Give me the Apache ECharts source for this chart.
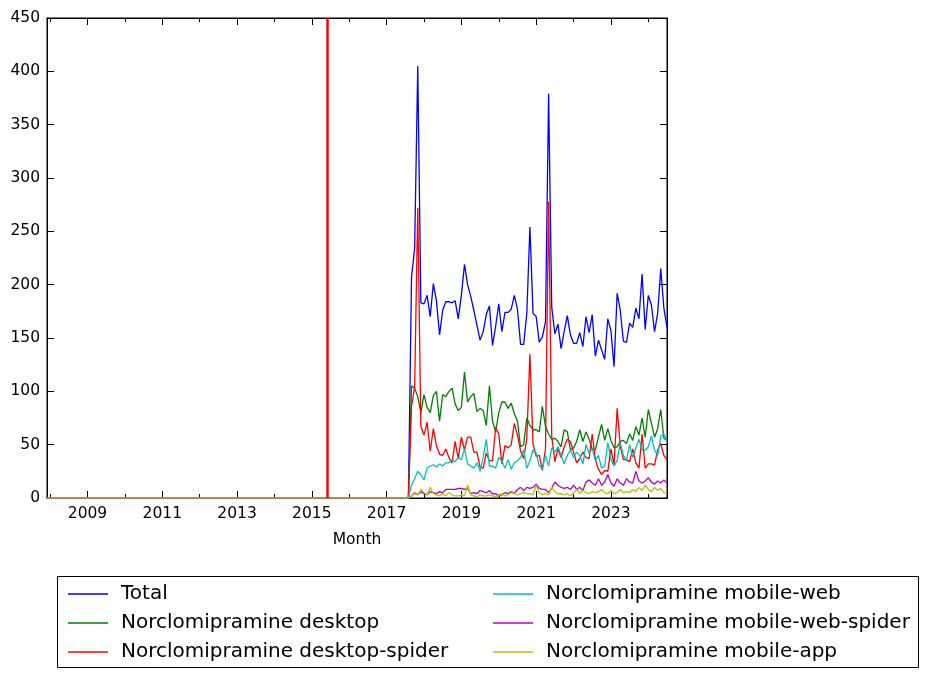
<!DOCTYPE html>
<html>
<head>
<meta charset="utf-8">
<script src="https://cdn.jsdelivr.net/npm/echarts@6/dist/echarts.min.js"></script>
<style>html,body{margin:0;padding:0;background:#fff}#c{width:929px;height:679px}</style>
</head>
<body>
<div id="c"></div>
<script>
// ---- data ----
const seriesNames = ['Total', 'Norclomipramine desktop', 'Norclomipramine desktop-spider',
  'Norclomipramine mobile-web', 'Norclomipramine mobile-web-spider', 'Norclomipramine mobile-app'];
const seriesColors = ['#0000ff', '#008000', '#ff0000', '#00bfbf', '#bf00bf', '#bfbf00'];

// flat zero stretch before the data begins
const leadMonths = ['2007-12', '2017-08'];
const leadValues = [0, 0];

// monthly values from 2017-09 to 2024-07
const firstMonth = '2017-09';
const total = [
  207, 234, 405, 183,
  182, 190, 170, 201, 185, 153, 176, 184, 184, 183, 185, 168,
  190, 219, 200, 189, 176, 162, 148, 156, 172, 180, 143, 161,
  182, 156, 174, 174, 177, 190, 177, 144, 144, 173, 254, 173,
  170, 146, 151, 165, 379, 179, 154, 163, 140, 156, 171, 153,
  145, 145, 155, 142, 170, 155, 172, 133, 148, 139, 130, 168,
  157, 123, 192, 176, 147, 146, 164, 160, 178, 168, 210, 158,
  190, 181, 156, 173, 215, 178, 160
];
const desktop = [
  105, 103, 95, 80,
  97, 85, 80, 96, 100, 72, 97, 95, 100, 103, 88, 82,
  85, 118, 90, 95, 98, 81, 84, 82, 68, 105, 72, 62,
  80, 90, 90, 84, 89, 79, 72, 48, 50, 75, 68, 64,
  64, 62, 86, 67, 60, 55, 56, 53, 48, 64, 62, 45,
  47, 53, 64, 53, 62, 55, 46, 45, 57, 69, 54, 65,
  54, 47, 48, 53, 54, 51, 60, 54, 67, 59, 75, 57,
  83, 70, 57, 65, 83, 56, 54
];
const desktopSpider = [
  86, 104, 272, 67,
  59, 71, 44, 65, 49, 41, 40, 46, 38, 33, 53, 37,
  57, 45, 57, 57, 43, 43, 29, 28, 42, 35, 35, 66,
  60, 32, 49, 47, 50, 70, 59, 44, 37, 56, 135, 51,
  39, 40, 26, 46, 278, 58, 34, 46, 38, 48, 55, 53,
  43, 33, 37, 43, 38, 37, 60, 36, 27, 22, 26, 25,
  46, 31, 84, 49, 36, 36, 34, 46, 33, 28, 60, 28,
  32, 32, 31, 45, 51, 40, 36
];
const mobileWeb = [
  12, 18, 25, 22,
  17, 28, 30, 31, 29, 32, 30, 33, 33, 36, 34, 38,
  36, 46, 32, 30, 28, 33, 25, 38, 55, 30, 30, 28,
  38, 35, 28, 36, 27, 33, 35, 38, 45, 28, 35, 45,
  42, 30, 28, 40, 30, 47, 43, 48, 40, 32, 40, 45,
  38, 43, 40, 32, 50, 42, 46, 35, 40, 28, 30, 52,
  36, 30, 35, 52, 40, 35, 50, 38, 47, 55, 45, 45,
  48, 58, 45, 40, 58, 60, 52
];
const mobileWebSpider = [
  2, 5, 3, 6,
  4, 3, 6, 5, 4, 6, 5, 8, 8, 8, 8, 9,
  9, 8, 9, 4, 5, 4, 7, 6, 5, 7, 4, 4,
  2, 3, 5, 4, 6, 4, 8, 10, 7, 10, 9, 10,
  13, 9, 8, 8, 5, 9, 15, 12, 10, 9, 10, 8,
  12, 8, 10, 7, 15, 17, 14, 12, 18, 12, 15, 22,
  14, 11, 18, 14, 12, 18, 15, 14, 25, 16, 14, 16,
  19, 15, 13, 16, 14, 17, 14
];
const mobileApp = [
  2, 4, 3, 8,
  5, 3, 10, 4, 3, 2, 4, 2, 5, 3, 2, 2,
  3, 2, 12, 3, 2, 1, 3, 2, 2, 3, 2, 1,
  2, 4, 2, 3, 5, 4, 3, 4, 5, 4, 4, 3,
  12, 5, 3, 4, 3, 10, 6, 4, 4, 3, 4, 2,
  5, 8, 4, 7, 5, 4, 6, 5, 6, 8, 5, 4,
  7, 4, 5, 8, 5, 6, 5, 8, 6, 10, 7, 12,
  8, 6, 10, 7, 9, 5, 4
];
const allValues = [total, desktop, desktopSpider, mobileWeb, mobileWebSpider, mobileApp];

const yTicks = [0, 50, 100, 150, 200, 250, 300, 350, 400, 450];
const xAxisStart = '2007-12';
const xAxisEnd = '2024-07';
const markerMonth = '2015-06';
const xTitle = 'Month';

// ---- helpers ----
function toYear(s) { const p = s.split('-').map(Number); return p[0] + (p[1] - 1) / 12; }
const months = [];
(function () {
  let p = firstMonth.split('-').map(Number), y = p[0], m = p[1];
  for (let i = 0; i < total.length; i++) {
    months.push(y + '-' + String(m).padStart(2, '0'));
    m++; if (m > 12) { m = 1; y++; }
  }
})();

const FONT = 'DejaVu Sans';
const xMin = toYear(xAxisStart), xMax = toYear(xAxisEnd);

function buildData(vals) {
  const d = leadMonths.map((mm, i) => [toYear(mm), leadValues[i]]);
  months.forEach((mm, i) => d.push([toYear(mm), vals[i]]));
  return d;
}

const baseX = {
  type: 'value', splitLine: { show: false },
  axisLine: { show: true, lineStyle: { color: '#000', width: 1 } },
  axisLabel: { show: false }
};
const xAxes = [
  Object.assign({}, baseX, {
    min: xMin, max: xMax, splitNumber: 16, position: 'bottom',
    axisTick: { show: true, inside: true, length: 4, lineStyle: { color: '#000' } },
    name: xTitle, nameLocation: 'middle', nameGap: 34,
    nameTextStyle: { fontFamily: FONT, fontSize: 15.5, color: '#000' }
  }),
  Object.assign({}, baseX, {
    min: xMin - 1, max: xMax - 1, splitNumber: 8, position: 'bottom',
    axisTick: { show: true, inside: true, length: 7, lineStyle: { color: '#000' } },
    axisLabel: {
      show: true, color: '#000', fontFamily: FONT, fontSize: 15.5, margin: 8,
      showMinLabel: false, showMaxLabel: false,
      formatter: v => String(Math.round(v + 1))
    }
  }),
  Object.assign({}, baseX, {
    min: xMin, max: xMax, splitNumber: 16, position: 'top',
    axisTick: { show: true, inside: true, length: 4, lineStyle: { color: '#000' } }
  }),
  Object.assign({}, baseX, {
    min: xMin - 1, max: xMax - 1, splitNumber: 8, position: 'top',
    axisTick: { show: true, inside: true, length: 7, lineStyle: { color: '#000' } }
  })
];

const baseY = {
  type: 'value', min: yTicks[0], max: yTicks[yTicks.length - 1], interval: yTicks[1] - yTicks[0],
  splitLine: { show: false },
  axisLine: { show: true, lineStyle: { color: '#000', width: 1 } },
  axisTick: { show: true, inside: true, length: 7, lineStyle: { color: '#000' } }
};
const yAxes = [
  Object.assign({}, baseY, {
    position: 'left',
    axisLabel: { color: '#000', fontFamily: FONT, fontSize: 15.5, margin: 7 }
  }),
  Object.assign({}, baseY, { position: 'right', axisLabel: { show: false } })
];

const series = seriesNames.map((name, i) => {
  const s = {
    name: name, type: 'line', xAxisIndex: 0, yAxisIndex: 0,
    data: buildData(allValues[i]),
    showSymbol: false, symbol: 'none',
    lineStyle: { width: 1.3, color: seriesColors[i] },
    itemStyle: { color: seriesColors[i] },
    emphasis: { disabled: true },
    animation: false
  };
  if (i === 0) {
    s.markLine = {
      silent: true, symbol: ['none', 'none'], animation: false,
      label: { show: false },
      lineStyle: { color: '#ff0000', width: 2.5, type: 'solid' },
      emphasis: { disabled: true },
      data: [{ xAxis: toYear(markerMonth) }]
    };
  }
  return s;
});

const legendCommon = {
  orient: 'vertical', top: 579.5, padding: 0, itemGap: 0,
  itemWidth: 40, itemHeight: 1.5, icon: 'rect',
  textStyle: { fontFamily: FONT, fontSize: 20, color: '#000', lineHeight: 29, padding: [0, 0, 0, 8] },
  selectedMode: false
};

const chart = echarts.init(document.getElementById('c'), null, { renderer: 'canvas' });
chart.setOption({
  backgroundColor: '#fff',
  animation: false,
  grid: { left: 47, right: 262, top: 18, bottom: 181, show: true, borderColor: '#000', borderWidth: 1, backgroundColor: 'transparent' },
  xAxis: xAxes,
  yAxis: yAxes,
  legend: [
    Object.assign({}, legendCommon, { left: 68, data: seriesNames.slice(0, 3) }),
    Object.assign({}, legendCommon, { left: 493, data: seriesNames.slice(3) })
  ],
  graphic: [{
    type: 'rect', silent: true,
    shape: { x: 57.5, y: 576.5, width: 861, height: 91 },
    style: { fill: 'none', stroke: '#000', lineWidth: 1 }
  }],
  series: series
});
</script>
</body>
</html>
